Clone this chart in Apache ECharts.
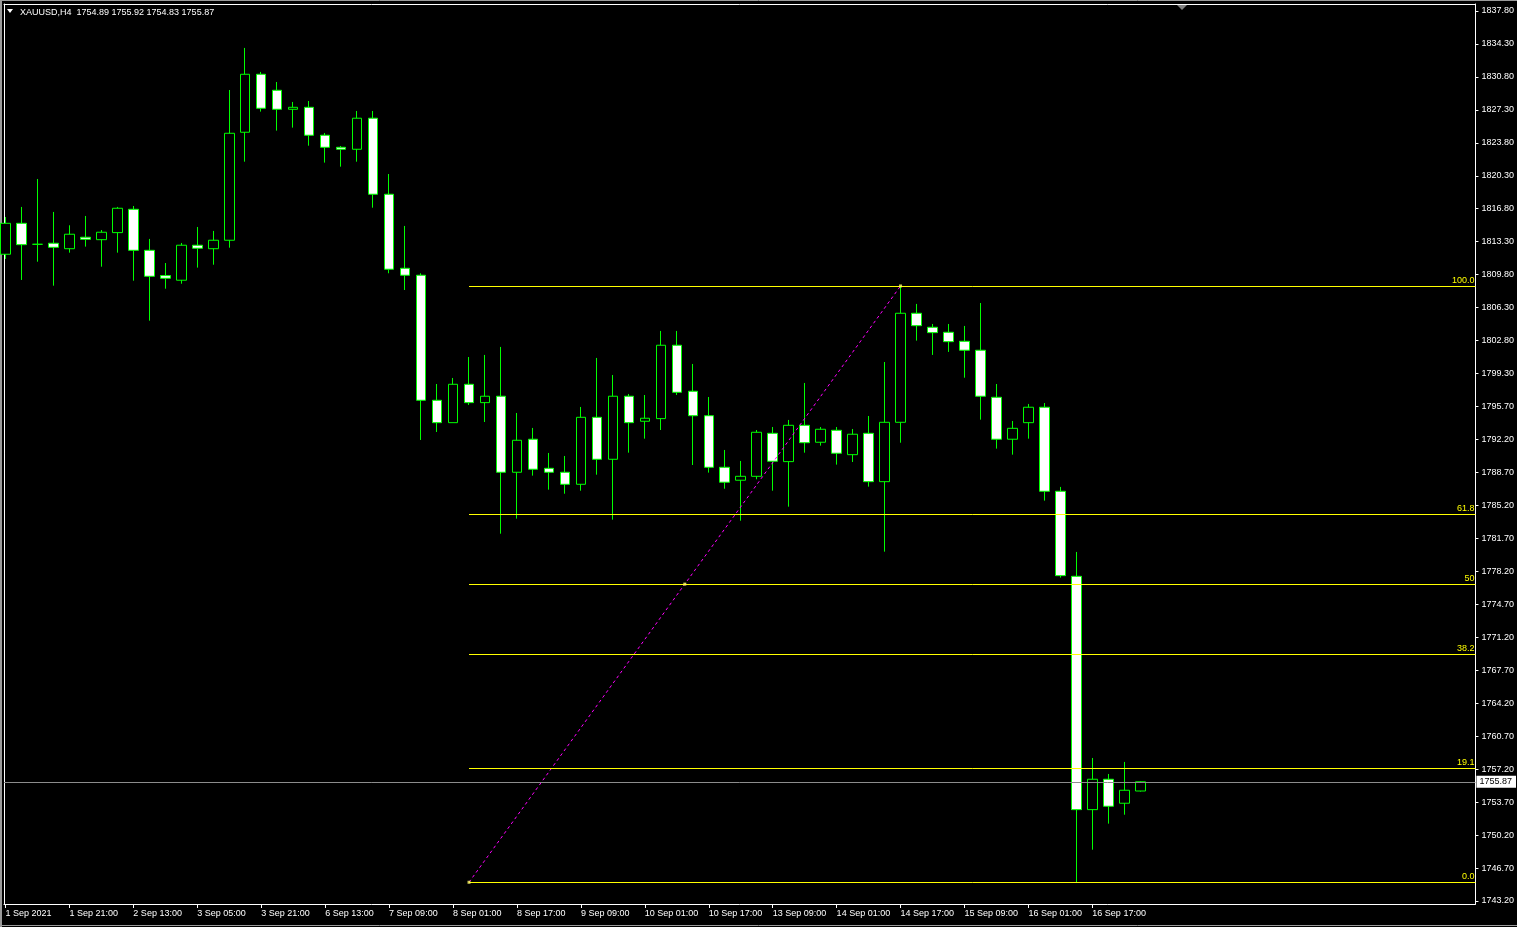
<!DOCTYPE html>
<html>
<head>
<meta charset="utf-8">
<script src="https://cdn.jsdelivr.net/npm/echarts@6/dist/echarts.min.js"></script>
<style>
html,body{margin:0;padding:0;background:#000;overflow:hidden;}
#chart{width:1517px;height:927px;}
</style>
</head>
<body>
<div id="chart"></div>
<script>
// ---------- DATA ----------
const symbolName = 'XAUUSD,H4';
const candleTimes = [
 '2021.09.01 05:00','2021.09.01 09:00','2021.09.01 13:00','2021.09.01 17:00','2021.09.01 21:00',
 '2021.09.02 01:00','2021.09.02 05:00','2021.09.02 09:00','2021.09.02 13:00','2021.09.02 17:00','2021.09.02 21:00',
 '2021.09.03 01:00','2021.09.03 05:00','2021.09.03 09:00','2021.09.03 13:00','2021.09.03 17:00','2021.09.03 21:00',
 '2021.09.06 01:00','2021.09.06 05:00','2021.09.06 09:00','2021.09.06 13:00','2021.09.06 17:00',
 '2021.09.07 01:00','2021.09.07 05:00','2021.09.07 09:00','2021.09.07 13:00','2021.09.07 17:00','2021.09.07 21:00',
 '2021.09.08 01:00','2021.09.08 05:00','2021.09.08 09:00','2021.09.08 13:00','2021.09.08 17:00','2021.09.08 21:00',
 '2021.09.09 01:00','2021.09.09 05:00','2021.09.09 09:00','2021.09.09 13:00','2021.09.09 17:00','2021.09.09 21:00',
 '2021.09.10 01:00','2021.09.10 05:00','2021.09.10 09:00','2021.09.10 13:00','2021.09.10 17:00','2021.09.10 21:00',
 '2021.09.13 01:00','2021.09.13 05:00','2021.09.13 09:00','2021.09.13 13:00','2021.09.13 17:00','2021.09.13 21:00',
 '2021.09.14 01:00','2021.09.14 05:00','2021.09.14 09:00','2021.09.14 13:00','2021.09.14 17:00','2021.09.14 21:00',
 '2021.09.15 01:00','2021.09.15 05:00','2021.09.15 09:00','2021.09.15 13:00','2021.09.15 17:00','2021.09.15 21:00',
 '2021.09.16 01:00','2021.09.16 05:00','2021.09.16 09:00','2021.09.16 13:00','2021.09.16 17:00','2021.09.16 21:00',
 '2021.09.17 01:00','2021.09.17 05:00'
];
const openPrices = [
 1811.94,1815.23,1813.00,1813.11,1812.53,1813.75,1813.49,1814.24,1816.72,1812.36,
 1809.67,1809.18,1812.90,1812.53,1813.43,1824.91,1831.07,1829.37,1827.35,1827.56,
 1824.59,1823.31,1823.10,1826.40,1818.32,1810.45,1809.71,1796.42,1794.04,1798.12,
 1796.17,1796.85,1788.77,1792.28,1789.19,1788.77,1787.49,1794.61,1790.15,1796.85,
 1794.19,1794.47,1802.27,1797.38,1794.78,1789.30,1787.92,1788.34,1792.91,1789.90,
 1793.76,1791.96,1793.23,1790.64,1792.91,1787.77,1794.08,1805.67,1804.18,1803.65,
 1802.69,1801.74,1796.74,1792.28,1794.04,1795.68,1786.75,1777.71,1752.91,1756.14,
 1753.59,1754.89
];
const highPrices = [
 1815.90,1816.97,1819.94,1816.44,1815.02,1816.01,1814.52,1816.97,1817.07,1813.57,
 1811.01,1813.14,1814.84,1814.42,1829.40,1833.87,1831.32,1830.25,1828.13,1828.23,
 1824.83,1823.45,1827.17,1827.17,1820.47,1814.95,1809.92,1798.15,1798.79,1801.02,
 1801.24,1802.09,1795.07,1793.48,1790.82,1790.50,1795.71,1800.92,1799.11,1797.09,
 1796.98,1803.79,1803.79,1800.28,1796.77,1791.14,1789.97,1793.26,1793.58,1794.33,
 1798.26,1793.58,1793.58,1793.37,1794.75,1800.49,1808.57,1806.66,1804.53,1804.53,
 1804.32,1806.76,1798.15,1794.22,1796.03,1796.13,1787.21,1780.30,1758.40,1756.70,
 1757.98,1755.92
];
const lowPrices = [
 1811.44,1809.21,1811.15,1808.60,1812.11,1812.75,1810.62,1812.11,1809.13,1804.88,
 1808.28,1808.81,1810.52,1810.83,1812.64,1821.78,1827.10,1825.08,1825.40,1823.48,
 1821.68,1821.25,1821.78,1816.89,1809.92,1808.14,1792.20,1793.05,1794.04,1795.92,
 1794.11,1782.24,1783.84,1788.41,1786.92,1786.49,1786.81,1788.51,1783.73,1790.85,
 1792.34,1793.26,1796.98,1789.54,1788.73,1787.02,1783.62,1788.02,1786.81,1785.11,
 1790.85,1791.60,1789.58,1789.86,1787.24,1780.33,1791.91,1802.76,1801.24,1801.56,
 1798.82,1794.36,1791.28,1790.64,1792.34,1785.75,1777.57,1745.19,1748.65,1751.42,
 1752.37,1754.83
];
const closePrices = [
 1815.23,1812.96,1813.00,1812.68,1814.07,1813.53,1814.28,1816.83,1812.36,1809.60,
 1809.39,1812.90,1812.58,1813.43,1824.80,1831.07,1827.46,1827.35,1827.56,1824.59,
 1823.31,1823.10,1826.40,1818.32,1810.35,1809.71,1796.42,1794.04,1798.12,1796.17,
 1796.85,1788.77,1792.17,1789.09,1788.77,1787.49,1794.61,1790.15,1796.85,1794.04,
 1794.51,1802.27,1797.27,1794.78,1789.30,1787.71,1788.34,1793.02,1789.94,1793.76,
 1791.91,1793.34,1790.79,1792.81,1787.77,1794.08,1805.67,1804.35,1803.61,1802.65,
 1801.74,1796.85,1792.28,1793.44,1795.68,1786.75,1777.78,1752.91,1756.14,1753.27,
 1754.97,1755.87
];
// time-axis labels (one every 4 bars, starting at bar 0)
const xTickLabels = ['1 Sep 2021','1 Sep 21:00','2 Sep 13:00','3 Sep 05:00','3 Sep 21:00','6 Sep 13:00',
 '7 Sep 09:00','8 Sep 01:00','8 Sep 17:00','9 Sep 09:00','10 Sep 01:00','10 Sep 17:00','13 Sep 09:00',
 '14 Sep 01:00','14 Sep 17:00','15 Sep 09:00','16 Sep 01:00','16 Sep 17:00'];
const xLabelEvery = 4;
// price-axis labels, bottom to top
const yTickLabels = ['1743.20','1746.70','1750.20','1753.70','1757.20','1760.70','1764.20','1767.70',
 '1771.20','1774.70','1778.20','1781.70','1785.20','1788.70','1792.20','1795.70','1799.30','1802.80',
 '1806.30','1809.80','1813.30','1816.80','1820.30','1823.80','1827.30','1830.80','1834.30','1837.80'];
// Fibonacci retracement object
const fibStartBar = 29, fibEndBar = 56;
const fibLow = 1745.19, fibHigh = 1808.57;
const fibLevels = [0, 19.1, 38.2, 50, 61.8, 100];
const fibLevelLabels = ['0.0', '19.1', '38.2', '50', '61.8', '100.0'];
const currentPrice = 1755.87;

// ---------- CHART ----------
const FONT = 'Liberation Sans';
const xMin = -0.094, xMax = 91.97;
const yMin = 1742.88, yMax = 1838.54;
const yFirst = parseFloat(yTickLabels[0]);
const yStep = (parseFloat(yTickLabels[yTickLabels.length - 1]) - yFirst) / (yTickLabels.length - 1);
const yTickValues = yTickLabels.map((_, k) => yFirst + k * yStep);
const xTickValues = xTickLabels.map((_, k) => k * xLabelEvery);

const candleData = candleTimes.map((t, i) => [i, openPrices[i], closePrices[i], lowPrices[i], highPrices[i]]);
const fibPrice = lv => fibLow + (fibHigh - fibLow) * lv / 100;

const fibLines = fibLevels.map((lv, k) => [
  { coord: [fibStartBar, fibPrice(lv)], name: fibLevelLabels[k] },
  { coord: [xMax, fibPrice(lv)] }
]);

const last = candleTimes.length - 1;
const titleText = symbolName + '  ' + openPrices[last].toFixed(2) + ' ' + highPrices[last].toFixed(2) + ' ' +
  lowPrices[last].toFixed(2) + ' ' + closePrices[last].toFixed(2);

const chart = echarts.init(document.getElementById('chart'), null, { renderer: 'canvas' });
chart.setOption({
  backgroundColor: '#000000',
  animation: false,
  textStyle: { fontFamily: FONT },
  grid: { left: 4, right: 40, top: 4, bottom: 23, show: false },
  xAxis: [{
    type: 'value', min: xMin, max: xMax, position: 'bottom',
    axisLine: { show: true, onZero: false, lineStyle: { color: '#ffffff', width: 1 } },
    axisTick: { show: true, customValues: xTickValues, length: 4, lineStyle: { color: '#ffffff' } },
    axisLabel: {
      show: true, customValues: xTickValues, color: '#ffffff', fontSize: 9, fontFamily: FONT,
      align: 'left', margin: 5,
      formatter: v => xTickLabels[Math.round(v / xLabelEvery)] || ''
    },
    splitLine: { show: false }
  }, {
    type: 'value', min: xMin, max: xMax, position: 'top',
    axisLine: { show: true, onZero: false, lineStyle: { color: '#ffffff', width: 1 } },
    axisTick: { show: false }, axisLabel: { show: false }, splitLine: { show: false }
  }],
  yAxis: [{
    type: 'value', min: yMin, max: yMax, position: 'right',
    axisLine: { show: true, onZero: false, lineStyle: { color: '#ffffff', width: 1 } },
    axisTick: { show: true, customValues: yTickValues, length: 3, lineStyle: { color: '#ffffff' } },
    axisLabel: {
      show: true, customValues: yTickValues, color: '#ffffff', fontSize: 9, fontFamily: FONT, margin: 6,
      formatter: v => yTickLabels[Math.round((v - yFirst) / yStep)] || ''
    },
    splitLine: { show: false }
  }, {
    type: 'value', min: yMin, max: yMax, position: 'left',
    axisLine: { show: true, onZero: false, lineStyle: { color: '#ffffff', width: 1 } },
    axisTick: { show: false }, axisLabel: { show: false }, splitLine: { show: false }
  }],
  series: [{
    type: 'candlestick',
    xAxisIndex: 0, yAxisIndex: 0,
    data: candleData,
    encode: { x: 0, y: [1, 2, 3, 4] },
    barWidth: 10,
    clip: true,
    itemStyle: {
      color: '#000000', color0: '#ffffff',
      borderColor: '#00ff00', borderColor0: '#00ff00', borderColorDoji: '#00ff00',
      borderWidth: 1
    },
    emphasis: { disabled: true },
    z: 2
  }, {
    type: 'line',
    name: 'fibo',
    xAxisIndex: 0, yAxisIndex: 0,
    data: [[fibStartBar, fibLow], [fibEndBar, fibHigh]],
    symbol: 'none',
    lineStyle: { color: '#ff00ff', width: 1, type: [3, 3] },
    silent: true,
    z: 4,
    markLine: {
      silent: true,
      symbol: ['none', 'none'],
      animation: false,
      precision: 2,
      data: fibLines.concat([{
        yAxis: currentPrice,
        lineStyle: { color: '#8c8c8c', type: 'solid', width: 1 },
        label: {
          show: true, position: 'end', distance: 1,
          formatter: currentPrice.toFixed(2),
          color: '#000000', backgroundColor: '#ffffff', fontSize: 9, fontFamily: FONT,
          padding: [2, 4, 1, 3]
        }
      }]),
      lineStyle: { color: '#ffff00', type: 'solid', width: 1 },
      label: {
        show: true, position: 'insideEndTop', distance: [1, 1],
        formatter: p => p.name, color: '#ffff00', fontSize: 9, fontFamily: FONT
      }
    }
  }, {
    type: 'scatter',
    xAxisIndex: 0, yAxisIndex: 0,
    data: [[fibStartBar, fibLow], [(fibStartBar + fibEndBar) / 2, (fibLow + fibHigh) / 2], [fibEndBar, fibHigh]],
    symbol: 'rect', symbolSize: 3,
    itemStyle: { color: '#ffff66' },
    silent: true,
    z: 5
  }],
  graphic: [
    { type: 'polygon', shape: { points: [[7, 9], [13, 9], [10, 13]] }, style: { fill: '#ffffff' }, silent: true },
    { type: 'text', left: 20, top: 8, style: { text: titleText, fill: '#ffffff', font: '9px "Liberation Sans"' }, silent: true },
    { type: 'polygon', shape: { points: [[1177, 5], [1187, 5], [1182, 10]] }, style: { fill: '#808080' }, silent: true },
    { type: 'line', shape: { x1: 1, y1: 0, x2: 1, y2: 927 }, style: { stroke: '#9a9a9a', lineWidth: 2 }, silent: true },
    { type: 'line', shape: { x1: 0, y1: 0.5, x2: 1517, y2: 0.5 }, style: { stroke: '#9a9a9a', lineWidth: 1 }, silent: true },
    { type: 'line', shape: { x1: 0, y1: 925.5, x2: 1517, y2: 925.5 }, style: { stroke: '#9a9a9a', lineWidth: 1 }, silent: true }
  ]
});
</script>
</body>
</html>
